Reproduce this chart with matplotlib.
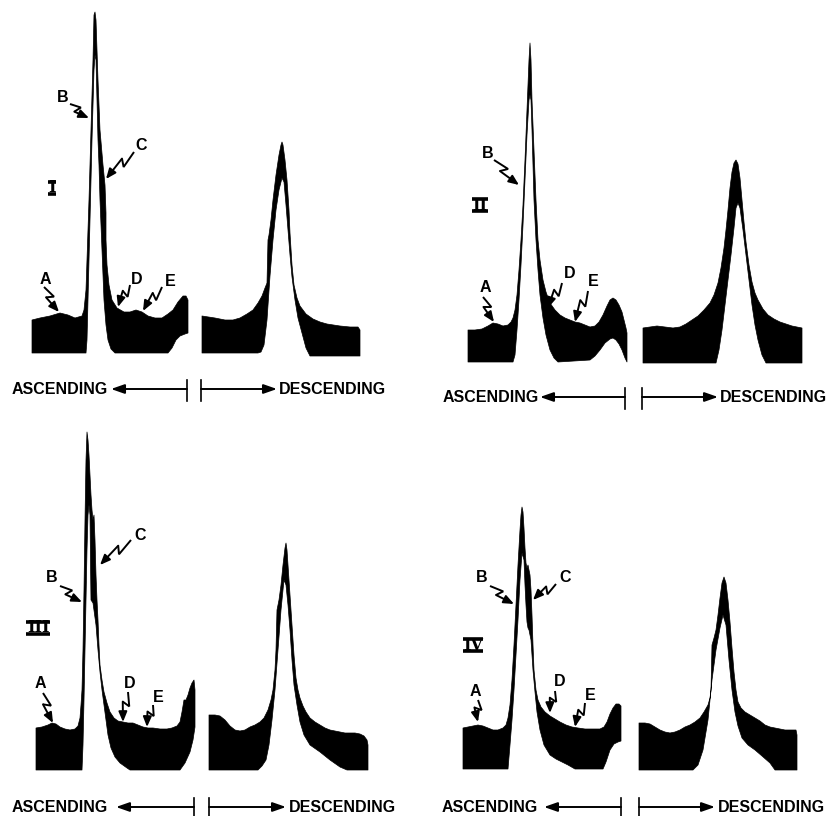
import numpy as np
import matplotlib
matplotlib.use("Agg")
import matplotlib.pyplot as plt

# ---------------- trace readings (scan units; y grows downward) ----------------
# Panel I - ascending
I_asc_top_x = [32, 40, 50, 60, 68, 75, 82, 84, 86, 87, 89, 91, 93, 94, 95, 96, 98, 100, 103, 105, 106, 106, 107, 109, 112, 117, 124, 130, 136, 142, 148, 155, 162, 168, 173, 178, 183, 186, 188]
I_asc_top_y = [320, 318, 316, 313, 315, 318, 316, 310, 290, 260, 200, 130, 60, 15, 12, 20, 80, 130, 165, 185, 213, 240, 265, 285, 300, 308, 312, 312, 310, 312, 316, 318, 318, 314, 310, 302, 296, 296, 300]
I_asc_bot_x = [32, 86, 87, 88, 90, 92, 94, 95, 96, 97, 98, 99, 100, 102, 104, 106, 108, 111, 115, 120, 168, 172, 176, 180, 185, 188]
I_asc_bot_y = [353, 353, 340, 300, 220, 140, 70, 55, 60, 100, 140, 165, 200, 250, 300, 325, 340, 349, 353, 353, 353, 348, 340, 336, 334, 333]

# Panel I - descending
I_desc_top_x = [202, 215, 225, 233, 240, 247, 253, 258, 262, 265, 267, 268, 269, 271, 273, 276, 279, 281, 282, 283, 285, 287, 289, 290, 292, 294, 297, 300, 306, 313, 320, 327, 340, 350, 358, 360]
I_desc_top_y = [316, 318, 320, 320, 318, 314, 310, 303, 296, 288, 283, 240, 235, 220, 200, 175, 155, 145, 142, 145, 160, 180, 210, 233, 265, 285, 298, 306, 314, 319, 322, 324, 326, 327, 327, 330]
I_desc_bot_x = [202, 258, 261, 264, 267, 270, 273, 276, 279, 282, 284, 286, 288, 290, 292, 295, 298, 302, 306, 310, 360]
I_desc_bot_y = [353, 353, 352, 345, 320, 276, 240, 210, 190, 178, 182, 205, 230, 255, 277, 300, 318, 333, 348, 356, 356]

# Panel II - ascending
II_asc_top_x = [468, 475, 482, 488, 493, 498, 503, 508, 511, 513, 515, 517, 519, 521, 523, 525, 527, 528, 529, 530, 531, 532, 534, 536, 538, 540, 543, 546, 550, 555, 560, 565, 570, 575, 580, 585, 590, 595, 599, 603, 607, 610, 613, 616, 619, 622, 624, 626, 627]
II_asc_top_y = [330, 330, 329, 326, 323, 324, 326, 325, 322, 318, 310, 295, 270, 240, 205, 160, 110, 85, 60, 43, 60, 100, 150, 200, 240, 260, 280, 292, 303, 310, 315, 318, 320, 322, 323, 325, 327, 326, 322, 315, 306, 300, 298, 300, 305, 312, 320, 328, 333]
II_asc_bot_x = [468, 513, 515, 517, 519, 521, 523, 525, 527, 529, 530, 531, 532, 533, 534, 536, 538, 540, 543, 546, 550, 554, 558, 590, 595, 600, 605, 610, 613, 616, 619, 622, 625, 627]
II_asc_bot_y = [362, 362, 355, 330, 300, 265, 225, 180, 135, 100, 95, 100, 130, 165, 200, 240, 270, 295, 318, 335, 350, 358, 362, 360, 356, 350, 343, 339, 338, 340, 344, 350, 358, 362]

# Panel II - descending
II_desc_top_x = [643, 650, 657, 665, 673, 680, 686, 692, 698, 704, 710, 714, 718, 721, 724, 726, 728, 730, 732, 734, 736, 738, 740, 742, 744, 746, 749, 752, 755, 758, 763, 768, 774, 780, 786, 792, 797, 802]
II_desc_top_y = [328, 327, 326, 327, 328, 327, 324, 320, 316, 310, 303, 295, 283, 268, 248, 230, 210, 188, 172, 163, 160, 164, 178, 200, 222, 242, 265, 282, 293, 300, 309, 315, 319, 322, 324, 326, 327, 328]
II_desc_bot_x = [643, 716, 719, 722, 725, 728, 731, 734, 736, 738, 740, 743, 746, 749, 752, 755, 758, 762, 766, 802]
II_desc_bot_y = [363, 363, 350, 330, 305, 280, 255, 228, 208, 203, 208, 230, 255, 280, 305, 325, 340, 355, 363, 363]

# Panel III - ascending
III_asc_top_x = [36, 42, 48, 52, 56, 60, 65, 70, 75, 78, 80, 81, 82, 83, 84, 85, 86, 87, 88, 89, 90, 91, 92, 93, 94, 95, 96, 97, 98, 99, 100, 102, 104, 107, 110, 114, 118, 123, 128, 133, 138, 143, 148, 153, 160, 167, 172, 177, 180, 182, 184, 186, 188, 190, 192, 194, 195]
III_asc_top_y = [728, 727, 725, 723, 724, 727, 729, 730, 729, 726, 718, 705, 690, 650, 590, 520, 460, 432, 440, 455, 475, 495, 510, 520, 515, 540, 575, 600, 620, 645, 665, 680, 692, 703, 712, 718, 721, 722, 723, 723, 725, 727, 728, 728, 729, 729, 728, 726, 722, 712, 700, 700, 695, 688, 683, 680, 690]
III_asc_bot_x = [36, 82, 83, 84, 85, 86, 87, 88, 89, 90, 90.5, 91, 93, 96, 98, 100, 102, 104, 106, 108, 111, 115, 120, 127, 130, 176, 180, 185, 190, 193, 195]
III_asc_bot_y = [770, 770, 745, 700, 650, 600, 550, 515, 505, 515, 560, 600, 603, 625, 650, 672, 690, 705, 720, 735, 748, 757, 763, 768, 770, 770, 770, 763, 752, 740, 727]

# Panel III - descending
III_desc_top_x = [209, 215, 220, 225, 230, 235, 240, 245, 250, 255, 260, 264, 268, 271, 273, 275, 276, 277, 279, 281, 283, 285, 286, 287, 288, 290, 292, 294, 296, 298, 300, 303, 306, 310, 315, 320, 325, 330, 335, 340, 345, 350, 355, 360, 364, 367, 368]
III_desc_top_y = [715, 715, 716, 720, 726, 730, 731, 730, 727, 725, 722, 718, 710, 700, 690, 670, 650, 610, 600, 585, 565, 548, 543, 550, 565, 595, 625, 655, 678, 690, 698, 706, 712, 718, 722, 725, 728, 730, 731, 732, 733, 733, 733, 734, 736, 740, 745]
III_desc_bot_x = [209, 258, 262, 266, 269, 272, 275, 278, 281, 284, 286, 288, 290, 292, 294, 297, 300, 304, 310, 320, 330, 340, 347, 368]
III_desc_bot_y = [770, 770, 766, 760, 745, 720, 690, 650, 610, 580, 585, 605, 630, 660, 685, 705, 722, 735, 745, 752, 760, 767, 770, 770]

# Panel IV - ascending
IV_asc_top_x = [463, 468, 473, 478, 483, 488, 493, 498, 503, 506, 508, 510, 512, 514, 516, 518, 520, 521, 522, 523, 524, 525, 526, 527, 528, 529, 530, 531, 532, 533, 534, 536, 538, 541, 545, 550, 555, 560, 566, 572, 578, 585, 592, 600, 604, 607, 610, 613, 616, 619, 621]
IV_asc_top_y = [728, 727, 726, 725, 726, 728, 730, 730, 728, 725, 718, 705, 680, 645, 605, 565, 530, 515, 507, 512, 528, 548, 563, 568, 565, 570, 575, 590, 615, 645, 670, 690, 700, 707, 712, 716, 719, 722, 725, 727, 728, 729, 729, 729, 727, 722, 714, 708, 704, 704, 706]
IV_asc_bot_x = [463, 508, 510, 512, 514, 516, 518, 520, 522, 524, 525, 526, 527, 528, 529, 531, 533, 535, 537, 540, 544, 550, 556, 562, 568, 575, 603, 606, 610, 614, 618, 621]
IV_asc_bot_y = [769, 769, 745, 720, 690, 655, 620, 580, 553, 560, 585, 605, 622, 628, 630, 640, 670, 692, 712, 730, 745, 755, 759, 762, 765, 769, 769, 762, 750, 744, 742, 741]

# Panel IV - descending
IV_desc_top_x = [639, 645, 650, 655, 660, 665, 670, 675, 680, 685, 690, 695, 700, 704, 708, 710, 711, 712, 714, 716, 718, 720, 722, 724, 726, 728, 730, 732, 734, 736, 738, 741, 745, 750, 755, 760, 765, 770, 775, 780, 785, 790, 796, 797]
IV_desc_top_y = [723, 723, 724, 727, 730, 732, 733, 732, 730, 727, 725, 722, 718, 712, 705, 698, 690, 645, 638, 630, 615, 598, 583, 577, 583, 600, 622, 648, 672, 690, 702, 708, 712, 715, 718, 721, 725, 727, 728, 729, 730, 730, 730, 735]
IV_desc_bot_x = [639, 693, 698, 703, 708, 712, 716, 720, 723, 726, 729, 732, 735, 738, 742, 748, 755, 762, 770, 775, 797]
IV_desc_bot_y = [770, 770, 765, 750, 720, 680, 650, 628, 615, 625, 660, 690, 712, 726, 738, 745, 750, 756, 763, 770, 770]

# component labels: letter, label x, label y, arrow tail x, tail y, head x, head y
peak_letters = ["B", "C", "A", "D", "E",
                "B", "A", "D", "E",
                "C", "B", "A", "D", "E",
                "B", "C", "A", "D", "E"]
label_x = [63, 141, 45, 137, 170, 488, 485, 570, 593, 140, 52, 40, 130, 158, 482, 565, 475, 560, 590]
label_y = [97, 145, 279, 279, 281, 153, 288, 273, 282, 535, 577, 684, 683, 697, 578, 578, 692, 682, 695]
tail_x = [70, 134, 44, 130, 162, 494, 483, 562, 588, 131, 60, 43, 128, 153, 490, 556, 478, 555, 585]
tail_y = [104, 152, 287, 285, 287, 160, 297, 283, 291, 540, 586, 693, 692, 705, 586, 584, 700, 691, 703]
head_x = [89, 106, 59, 118, 143, 519, 494, 548, 575, 100, 82, 53, 123, 147, 514, 533, 478, 550, 575]
head_y = [118, 179, 312, 307, 311, 185, 322, 308, 322, 565, 602, 723, 722, 727, 604, 600, 722, 713, 727]

# panel numerals
numerals = ["I", "II", "III", "IV"]
numeral_x = [52, 480, 38, 473]
numeral_y = [188, 205, 628, 645]

# direction captions: row y, ascending text x, asc arrow head x, asc tick x, desc tick x, desc arrow head x, desc text x
caption_y = [389, 397, 807, 807]
asc_text_x = [12, 443, 12, 442]
asc_head_x = [111, 540, 116, 544]
asc_tick_x = [187, 625, 194, 621]
desc_tick_x = [201, 642, 209, 639]
desc_head_x = [277, 718, 286, 715]
desc_text_x = [279, 720, 289, 718]

# ---------------- drawing ----------------
fig = plt.figure(figsize=(8.3, 8.16), dpi=100)
ax = fig.add_axes([0, 0, 1, 1])
ax.set_xlim(0, 830)
ax.set_ylim(816, 0)
ax.axis("off")

traces = [
    (I_asc_top_x, I_asc_top_y, I_asc_bot_x, I_asc_bot_y),
    (I_desc_top_x, I_desc_top_y, I_desc_bot_x, I_desc_bot_y),
    (II_asc_top_x, II_asc_top_y, II_asc_bot_x, II_asc_bot_y),
    (II_desc_top_x, II_desc_top_y, II_desc_bot_x, II_desc_bot_y),
    (III_asc_top_x, III_asc_top_y, III_asc_bot_x, III_asc_bot_y),
    (III_desc_top_x, III_desc_top_y, III_desc_bot_x, III_desc_bot_y),
    (IV_asc_top_x, IV_asc_top_y, IV_asc_bot_x, IV_asc_bot_y),
    (IV_desc_top_x, IV_desc_top_y, IV_desc_bot_x, IV_desc_bot_y),
]
for tx, ty, bx, by in traces:
    px = list(tx) + list(bx)[::-1]
    py = list(ty) + list(by)[::-1]
    ax.fill(px, py, color="black", lw=0.5, ec="black", joinstyle="round")

FONT = ["Liberation Sans", "DejaVu Sans"]

def zigzag(x0, y0, x1, y1):
    d = np.array([x1 - x0, y1 - y0], float)
    L = np.hypot(*d)
    u = d / L
    n = np.array([-u[1], u[0]])
    s = np.array([x0, y0], float)
    p1 = s + 0.46 * L * u - 3.6 * n
    p2 = s + 0.34 * L * u + 3.6 * n
    ax.plot([s[0], p1[0], p2[0]], [s[1], p1[1], p2[1]], color="black", lw=1.4,
            solid_joinstyle="miter", solid_capstyle="butt")
    ax.annotate("", xy=(x1, y1), xytext=(p2[0], p2[1]),
                arrowprops=dict(arrowstyle="-|>,head_length=0.6,head_width=0.25",
                                color="black", lw=1.4, shrinkA=0, shrinkB=0))

for lt, lx, ly, ax0, ay0, hx, hy in zip(peak_letters, label_x, label_y, tail_x, tail_y, head_x, head_y):
    ax.text(lx, ly, lt, ha="center", va="center", fontsize=11.5, fontweight="bold", family=FONT)
    zigzag(ax0, ay0, hx, hy)

fig.canvas.draw()
inv = ax.transData.inverted()
for t, nx, ny in zip(numerals, numeral_x, numeral_y):
    txt = ax.text(nx, ny, t, ha="center", va="center", fontsize=11.5, fontweight="bold",
                  family=["DejaVu Serif"])
    bb = txt.get_window_extent(renderer=fig.canvas.get_renderer())
    (xa, _), (xb, _) = inv.transform([[bb.x0, bb.y0], [bb.x1, bb.y1]])
    for by_ in (ny - 6.5, ny + 6.0):
        ax.plot([xa - 0.5, xb + 0.5], [by_, by_], color="black", lw=2.6, solid_capstyle="butt")

for cy, atx, ahx, atk, dtk, dhx, dtx in zip(caption_y, asc_text_x, asc_head_x, asc_tick_x,
                                             desc_tick_x, desc_head_x, desc_text_x):
    ax.text(atx, cy, "ASCENDING", ha="left", va="center", fontsize=11.5, fontweight="bold", family=FONT)
    ax.annotate("", xy=(ahx, cy), xytext=(atk, cy),
                arrowprops=dict(arrowstyle="-|>,head_length=0.8,head_width=0.28",
                                color="black", lw=1.4, shrinkA=0, shrinkB=0))
    ax.plot([atk, atk], [cy - 9, cy + 12], color="black", lw=1.2)
    ax.plot([dtk, dtk], [cy - 9, cy + 12], color="black", lw=1.2)
    ax.annotate("", xy=(dhx, cy), xytext=(dtk, cy),
                arrowprops=dict(arrowstyle="-|>,head_length=0.8,head_width=0.28",
                                color="black", lw=1.4, shrinkA=0, shrinkB=0))
    ax.text(dtx, cy, "DESCENDING", ha="left", va="center", fontsize=11.5, fontweight="bold", family=FONT)

fig.savefig("out.png", dpi=100, facecolor="white")
